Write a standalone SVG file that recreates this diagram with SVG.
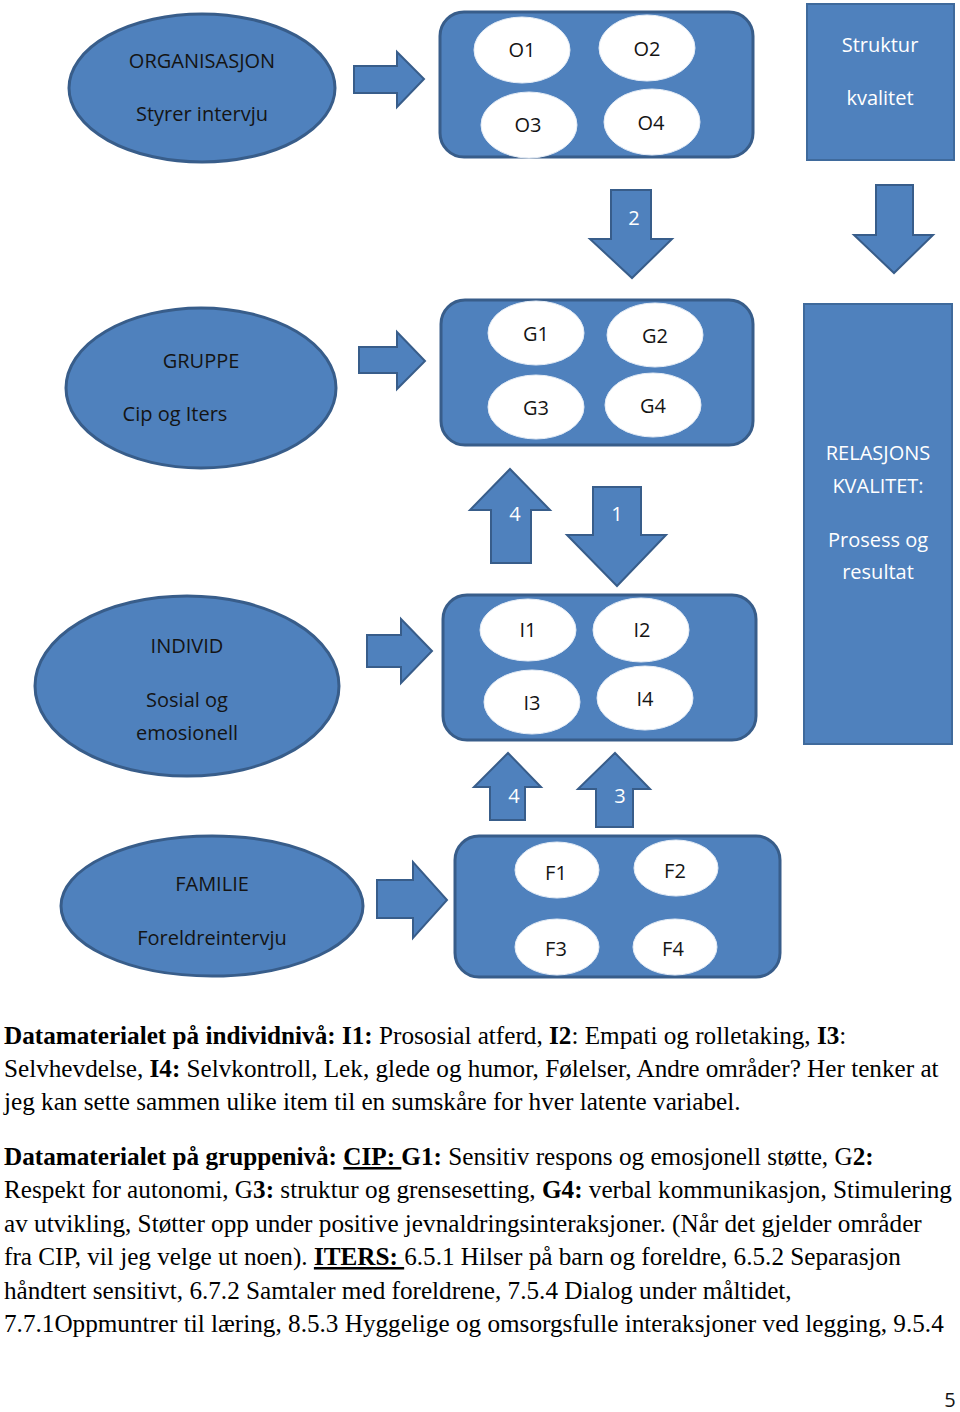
<svg xmlns="http://www.w3.org/2000/svg" width="960" height="1412" viewBox="0 0 960 1412">
<style>
.sh{fill:#4F81BD;stroke:#385D8A;stroke-width:3}
.ar{fill:#4F81BD;stroke:#385D8A;stroke-width:2}
.bx{fill:#4F81BD;stroke:#3F6A9C;stroke-width:2}
.wc{fill:#fff;stroke:#E4ECF6;stroke-width:1}
.t{font-family:"Open Sans","Liberation Sans",sans-serif;font-size:20px;text-anchor:middle}
.dk{fill:#141414}
.wt{fill:#fff}
.p{font-family:"Liberation Serif","Times New Roman",serif;font-size:25.2px;fill:#000}
.b{font-weight:bold}
.u{text-decoration:underline}
</style>
<rect width="960" height="1412" fill="#fff"/>
<g id="connectors">
<polygon class="ar" points="354,66 397,66 397,52 424,79 397,107 397,93 354,93"/>
<polygon class="ar" points="359,347 397,347 397,332 425,361 397,389 397,373 359,373"/>
<polygon class="ar" points="367,635 401,635 401,619 432,651 401,683 401,667 367,667"/>
<polygon class="ar" points="377,880 413,880 413,862 447,900 413,938 413,918 377,918"/>
<polygon class="ar" points="611,190 651,190 651,239 672,239 632,278 590,239 611,239"/>
<text class="t wt" x="634" y="225">2</text>
<polygon class="ar" points="876,185 913,185 913,235 933,235 894,273 854,235 876,235"/>
<polygon class="ar" points="510,469 550,510 531,510 531,563 491,563 491,510 470,510"/>
<text class="t wt" x="515" y="521">4</text>
<polygon class="ar" points="593,487 641,487 641,535 666,535 617,586 567,535 593,535"/>
<text class="t wt" x="617" y="521">1</text>
<polygon class="ar" points="508,753 541,787 525,787 525,820 490,820 490,787 474,787"/>
<text class="t wt" x="514" y="803">4</text>
<polygon class="ar" points="615,753 650,789 633,789 633,827 596,827 596,789 578,789"/>
<text class="t wt" x="620" y="803">3</text>
</g>
<g id="organisasjon">
<ellipse class="sh" cx="202" cy="88" rx="133" ry="74"/>
<text class="t dk" x="202" y="68">ORGANISASJON</text>
<text class="t dk" x="202" y="121">Styrer intervju</text>
</g>
<g id="o-group">
<rect class="sh" x="440" y="12" width="313" height="145" rx="24"/>
<ellipse class="wc" cx="522" cy="50" rx="48" ry="33"/>
<ellipse class="wc" cx="647" cy="48" rx="48" ry="33"/>
<ellipse class="wc" cx="529" cy="125" rx="48" ry="33"/>
<ellipse class="wc" cx="652" cy="122" rx="48" ry="33"/>
<text class="t dk" x="522" y="57">O1</text>
<text class="t dk" x="647" y="56">O2</text>
<text class="t dk" x="528" y="132">O3</text>
<text class="t dk" x="651" y="130">O4</text>
</g>
<g id="struktur">
<rect class="bx" x="807" y="4" width="147" height="156"/>
<text class="t wt" x="880" y="52">Struktur</text>
<text class="t wt" x="880" y="105">kvalitet</text>
</g>
<g id="gruppe">
<ellipse class="sh" cx="201" cy="388" rx="135" ry="80"/>
<text class="t dk" x="201" y="368">GRUPPE</text>
<text class="t dk" x="175" y="421">Cip og Iters</text>
</g>
<g id="g-group">
<rect class="sh" x="441" y="300" width="312" height="145" rx="24"/>
<ellipse class="wc" cx="536" cy="333" rx="48" ry="32"/>
<ellipse class="wc" cx="655" cy="335" rx="48" ry="32"/>
<ellipse class="wc" cx="536" cy="407" rx="48" ry="32"/>
<ellipse class="wc" cx="653" cy="405" rx="48" ry="32"/>
<text class="t dk" x="536" y="341">G1</text>
<text class="t dk" x="655" y="343">G2</text>
<text class="t dk" x="536" y="415">G3</text>
<text class="t dk" x="653" y="413">G4</text>
</g>
<g id="relasjons">
<rect class="bx" x="804" y="304" width="148" height="440"/>
<text class="t wt" x="878" y="460">RELASJONS</text>
<text class="t wt" x="878" y="493">KVALITET:</text>
<text class="t wt" x="878" y="547">Prosess og</text>
<text class="t wt" x="878" y="579">resultat</text>
</g>
<g id="individ">
<ellipse class="sh" cx="187" cy="686" rx="152" ry="90"/>
<text class="t dk" x="187" y="653">INDIVID</text>
<text class="t dk" x="187" y="707">Sosial og</text>
<text class="t dk" x="187" y="740">emosionell</text>
</g>
<g id="i-group">
<rect class="sh" x="443" y="595" width="313" height="145" rx="24"/>
<ellipse class="wc" cx="528" cy="630" rx="48" ry="31"/>
<ellipse class="wc" cx="641" cy="630" rx="48" ry="32"/>
<ellipse class="wc" cx="532" cy="702" rx="48" ry="32"/>
<ellipse class="wc" cx="645" cy="698" rx="48" ry="32"/>
<text class="t dk" x="528" y="637">I1</text>
<text class="t dk" x="642" y="637">I2</text>
<text class="t dk" x="532" y="710">I3</text>
<text class="t dk" x="645" y="706">I4</text>
</g>
<g id="familie">
<ellipse class="sh" cx="212" cy="906" rx="151" ry="70"/>
<text class="t dk" x="212" y="891">FAMILIE</text>
<text class="t dk" x="212" y="945">Foreldreintervju</text>
</g>
<g id="f-group">
<rect class="sh" x="455" y="836" width="325" height="141" rx="24"/>
<ellipse class="wc" cx="557" cy="870" rx="42" ry="28"/>
<ellipse class="wc" cx="676" cy="868" rx="42" ry="28"/>
<ellipse class="wc" cx="557" cy="947" rx="42" ry="28"/>
<ellipse class="wc" cx="675" cy="947" rx="42" ry="28"/>
<text class="t dk" x="556" y="880">F1</text>
<text class="t dk" x="675" y="878">F2</text>
<text class="t dk" x="556" y="956">F3</text>
<text class="t dk" x="673" y="956">F4</text>
</g>
<g id="text-individ">
<text class="p" x="4" y="1044"><tspan class="b">Datamaterialet på individnivå: I1:</tspan> Prososial atferd, <tspan class="b">I2</tspan>: Empati og rolletaking, <tspan class="b">I3</tspan>:</text>
<text class="p" x="4" y="1077">Selvhevdelse, <tspan class="b">I4:</tspan> Selvkontroll, Lek, glede og humor, Følelser, Andre områder? Her tenker at</text>
<text class="p" x="4" y="1110">jeg kan sette sammen ulike item til en sumskåre for hver latente variabel.</text>
</g>
<g id="text-gruppe">
<text class="p" x="4" y="1165"><tspan class="b">Datamaterialet på gruppenivå: </tspan><tspan class="b u">CIP: </tspan><tspan class="b">G1:</tspan> Sensitiv respons og emosjonell støtte, G<tspan class="b">2:</tspan></text>
<text class="p" x="4" y="1198">Respekt for autonomi, G<tspan class="b">3:</tspan> struktur og grensesetting, <tspan class="b">G4:</tspan> verbal kommunikasjon, Stimulering</text>
<text class="p" x="4" y="1232">av utvikling, Støtter opp under positive jevnaldringsinteraksjoner. (Når det gjelder områder</text>
<text class="p" x="4" y="1265">fra CIP, vil jeg velge ut noen). <tspan class="b u">ITERS: </tspan>6.5.1 Hilser på barn og foreldre, 6.5.2 Separasjon</text>
<text class="p" x="4" y="1299">håndtert sensitivt, 6.7.2 Samtaler med foreldrene, 7.5.4 Dialog under måltidet,</text>
<text class="p" x="4" y="1332">7.7.1Oppmuntrer til læring, 8.5.3 Hyggelige og omsorgsfulle interaksjoner ved legging, 9.5.4</text>
</g>
<text class="t dk" x="950" y="1407">5</text>
</svg>
